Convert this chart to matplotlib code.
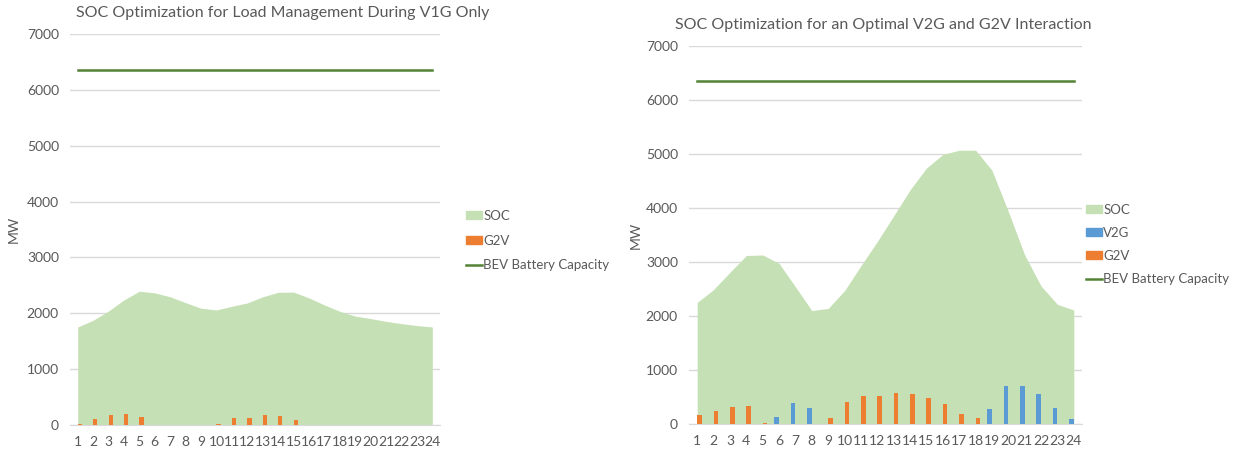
import matplotlib.pyplot as plt
import matplotlib.patches as mpatches
import numpy as np

plt.rcParams['font.family'] = ['Lato', 'DejaVu Sans']

# hours of the day
hours = np.arange(1, 25)

# left chart: V1G only
soc_v1g = [1755, 1875, 2040, 2240, 2395, 2365, 2295, 2190, 2090, 2060, 2125, 2185,
           2295, 2375, 2380, 2275, 2150, 2035, 1950, 1905, 1855, 1815, 1780, 1755]
g2v_v1g = [20, 105, 175, 190, 150, 0, 0, 0, 0, 18, 125, 125,
           175, 155, 90, 0, 0, 0, 0, 0, 0, 0, 0, 0]

# right chart: V2G and G2V
soc_v2g = [2250, 2490, 2810, 3120, 3130, 2975, 2540, 2100, 2140, 2470, 2930, 3380,
           3855, 4335, 4740, 4990, 5070, 5070, 4700, 3935, 3130, 2555, 2215, 2110]
v2g = [0, 0, 0, 0, 0, 135, 380, 300, 0, 0, 0, 0,
       0, 0, 0, 0, 0, 0, 285, 695, 700, 550, 300, 90]
g2v = [160, 245, 310, 325, 18, 0, 0, 0, 120, 410, 515, 515,
       565, 550, 480, 365, 190, 115, 0, 0, 0, 0, 0, 0]

bev_capacity = 6350

SOC_COL = '#C5E0B4'
G2V_COL = '#ED7D31'
V2G_COL = '#5B9BD5'
BEV_COL = '#548235'
GRID_COL = '#D9D9D9'
TXT_COL = '#595959'

W, H = 1237, 454
fig = plt.figure(figsize=(W / 100, H / 100), dpi=100)


def style_axes(ax, title, ylab_x):
    ax.set_xlim(0.5, 24.5)
    ax.set_ylim(0, 7000)
    ax.set_yticks(np.arange(0, 7001, 1000))
    ax.set_xticks(hours)
    ax.set_xticklabels([str(h) for h in hours])
    ax.grid(axis='y', color=GRID_COL, linewidth=1)
    ax.set_axisbelow(True)
    for s in ['top', 'right', 'left']:
        ax.spines[s].set_visible(False)
    ax.spines['bottom'].set_color(GRID_COL)
    ax.tick_params(length=0, labelsize=10, colors=TXT_COL, pad=8)
    ax.set_ylabel('MW', fontsize=10, color=TXT_COL)
    ax.yaxis.set_label_coords(ylab_x, 0.5)
    ax.set_title(title, fontsize=11.5, color=TXT_COL, pad=12)


bw = 0.28
off = 0.14
leg_kw = dict(bbox_transform=fig.transFigure, frameon=False, fontsize=9.5,
              labelcolor=TXT_COL, handlelength=1.2, handleheight=0.55,
              handletextpad=0.1, borderaxespad=0, borderpad=0, loc='upper left')

# left chart
ax1 = fig.add_axes([70 / W, 29 / H, 370 / W, 391 / H])
style_axes(ax1, 'SOC Optimization for Load Management During V1G Only', -0.135)
ax1.fill_between(hours, soc_v1g, color=SOC_COL, linewidth=0, zorder=2)
ax1.bar(hours + off, g2v_v1g, width=bw, color=G2V_COL, zorder=3)
l1, = ax1.plot(hours, [bev_capacity] * 24, color=BEV_COL, linewidth=1.8, zorder=4)
ax1.title.set_position((0.575, 1.0))
ax1.legend([mpatches.Patch(color=SOC_COL), mpatches.Patch(color=G2V_COL), l1],
           ['SOC', 'G2V', 'BEV Battery Capacity'],
           bbox_to_anchor=(466 / W, 1 - 210 / H), labelspacing=0.95, **leg_kw)

# right chart
ax2 = fig.add_axes([689 / W, 30 / H, 393 / W, 378 / H])
style_axes(ax2, 'SOC Optimization for an Optimal V2G and G2V Interaction', -0.12)
ax2.fill_between(hours, soc_v2g, color=SOC_COL, linewidth=0, zorder=2)
ax2.bar(hours - off, v2g, width=bw, color=V2G_COL, zorder=3)
ax2.bar(hours + off, g2v, width=bw, color=G2V_COL, zorder=3)
l2, = ax2.plot(hours, [bev_capacity] * 24, color=BEV_COL, linewidth=1.8, zorder=4)
ax2.title.set_position((0.495, 1.0))
ax2.legend([mpatches.Patch(color=SOC_COL), mpatches.Patch(color=V2G_COL),
            mpatches.Patch(color=G2V_COL), l2],
           ['SOC', 'V2G', 'G2V', 'BEV Battery Capacity'],
           bbox_to_anchor=(1086 / W, 1 - 204 / H), labelspacing=0.83, **leg_kw)

fig.savefig('out.png', dpi=100)
